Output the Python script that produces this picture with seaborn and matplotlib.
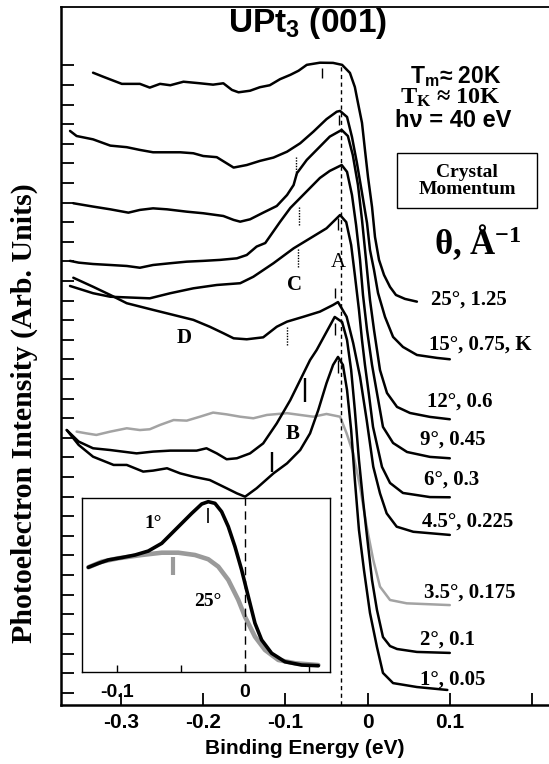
import matplotlib
matplotlib.use("Agg")
import matplotlib.pyplot as plt
import seaborn as sns
from matplotlib.patches import Rectangle

# --- ARPES spectra of UPt3 (001), binding energy (eV) vs intensity (arb. units, 1 tick = 1) ---
be_25 = [-0.334, -0.322, -0.309, -0.299, -0.277, -0.265, -0.2525, -0.240, -0.224, -0.204, -0.188, -0.1755,
         -0.165, -0.157, -0.143, -0.131, -0.119, -0.1065, -0.094, -0.084, -0.074, -0.058, -0.042, -0.031,
         -0.0215, -0.0155, -0.0117, -0.0068, -0.0032, 0.0005, 0.0054, 0.009, 0.0139, 0.020, 0.0273, 0.0345,
         0.0455, 0.060]
int_25 = [31.63, 31.43, 31.22, 31.06, 31.06, 30.87, 31.06, 30.99, 31.17, 31.09, 31.02, 31.09, 30.75, 30.63,
          30.71, 30.89, 30.99, 31.30, 31.52, 31.73, 32.03, 32.14, 32.13, 32.03, 31.62, 30.90, 30.09, 29.07,
          27.69, 26.31, 24.78, 23.25, 22.08, 21.31, 20.70, 20.29, 20.09, 19.95]

be_15 = [-0.362, -0.354, -0.334, -0.313, -0.293, -0.277, -0.261, -0.244, -0.228, -0.212, -0.200, -0.1835,
         -0.1715, -0.163, -0.147, -0.131, -0.1145, -0.098, -0.082, -0.066, -0.050, -0.0375, -0.0335, -0.025,
         -0.019, -0.013, -0.0068, -0.0007, 0.0029, 0.0078, 0.0127, 0.0212, 0.031, 0.043, 0.060, 0.0844, 0.100]
int_15 = [28.66, 28.40, 28.23, 27.91, 27.83, 27.69, 27.57, 27.57, 27.57, 27.52, 27.38, 27.32, 27.01, 26.79,
          26.92, 27.13, 27.30, 27.60, 28.03, 28.62, 29.26, 29.64, 29.68, 29.37, 28.35, 27.03, 25.50, 23.96,
          22.59, 21.57, 20.39, 19.17, 18.15, 17.64, 17.23, 17.08, 17.01]

be_12 = [-0.358, -0.334, -0.313, -0.291, -0.277, -0.261, -0.244, -0.220, -0.200, -0.1755, -0.163, -0.155,
         -0.143, -0.127, -0.1105, -0.098, -0.090, -0.086, -0.074, -0.058, -0.046, -0.0315, -0.024, -0.018,
         -0.0117, -0.0068, -0.0019, 0.0029, 0.0078, 0.0151, 0.0236, 0.0358, 0.0516, 0.0759, 0.100]
int_12 = [24.97, 24.80, 24.66, 24.49, 24.63, 24.71, 24.66, 24.54, 24.46, 24.32, 24.12, 24.03, 24.15, 24.49,
          24.83, 25.39, 25.90, 26.50, 27.18, 27.86, 28.37, 28.71, 28.40, 27.43, 25.90, 24.12, 22.08, 20.04,
          18.51, 16.46, 15.29, 14.58, 14.27, 14.07, 13.95]

be_9 = [-0.362, -0.3515, -0.334, -0.313, -0.293, -0.277, -0.261, -0.240, -0.220, -0.200, -0.1795, -0.159,
        -0.147, -0.135, -0.1245, -0.1065, -0.094, -0.082, -0.070, -0.058, -0.046, -0.0315, -0.025, -0.019,
        -0.014, -0.0092, -0.0056, -0.0007, 0.0054, 0.0114, 0.0187, 0.031, 0.048, 0.0759, 0.100]
int_9 = [22.03, 21.94, 21.87, 21.82, 21.77, 21.68, 21.82, 21.91, 21.99, 22.03, 22.08, 22.16, 22.33, 22.76,
         22.94, 24.02, 24.73, 25.24, 25.75, 26.26, 26.62, 26.92, 26.57, 25.39, 23.86, 22.08, 20.29, 18.51,
         16.72, 15.29, 13.56, 12.74, 12.28, 12.03, 11.96]

be_6 = [-0.362, -0.334, -0.313, -0.265, -0.240, -0.212, -0.1835, -0.155, -0.139, -0.1145, -0.090, -0.070,
        -0.050, -0.0335, -0.026, -0.020, -0.0155, -0.0105, -0.0068, -0.0032, 0.0017, 0.0066, 0.0175, 0.0273,
        0.043, 0.0759, 0.100]
int_6 = [20.75, 20.38, 20.20, 20.12, 20.38, 20.63, 20.80, 20.89, 21.22, 21.91, 22.67, 23.18, 23.69, 24.37,
         24.01, 22.84, 21.31, 19.53, 17.99, 16.72, 15.19, 13.56, 11.52, 10.70, 10.19, 9.98, 9.97]

be_45 = [-0.358, -0.334, -0.313, -0.293, -0.261, -0.236, -0.212, -0.192, -0.1755, -0.163, -0.147, -0.127,
         -0.1105, -0.098, -0.078, -0.058, -0.042, -0.036, -0.0255, -0.0175, -0.0092, -0.0011, 0.0069, 0.0151,
         0.0232, 0.0354, 0.0556, 0.100]
int_45 = [21.17, 20.71, 20.29, 19.87, 19.53, 19.27, 19.02, 18.67, 18.34, 18.08, 18.03, 18.13, 18.67, 18.93,
          19.18, 19.44, 19.78, 19.93, 19.18, 17.83, 16.12, 13.91, 11.53, 10.17, 9.15, 8.47, 8.21, 8.05]

be_35 = [-0.354, -0.342, -0.330, -0.313, -0.293, -0.277, -0.265, -0.2525, -0.236, -0.220, -0.204, -0.188,
         -0.1715, -0.155, -0.139, -0.1225, -0.098, -0.082, -0.066, -0.050, -0.0335, -0.0255, -0.0175, -0.0092,
         -0.0011, 0.0069, 0.0151, 0.0273, 0.0476, 0.100]
int_35 = [13.32, 13.23, 13.15, 13.32, 13.49, 13.40, 13.44, 13.66, 13.91, 13.88, 14.08, 14.29, 14.20, 14.08,
          14.00, 14.17, 14.26, 14.17, 14.08, 14.22, 14.08, 13.23, 12.21, 10.51, 8.47, 6.77, 5.41, 4.73, 4.56,
          4.47]

be_2 = [-0.366, -0.3515, -0.334, -0.313, -0.281, -0.261, -0.240, -0.208, -0.196, -0.1835, -0.1715, -0.159,
        -0.143, -0.127, -0.1105, -0.094, -0.082, -0.070, -0.062, -0.052, -0.040, -0.031, -0.025, -0.020,
        -0.0155, -0.0105, -0.0056, 0.0005, 0.0054, 0.0114, 0.0187, 0.0273, 0.0358, 0.060, 0.100]
int_2 = [13.40, 12.81, 12.47, 12.38, 12.21, 12.30, 12.35, 12.35, 12.47, 12.21, 11.91, 11.96, 12.21, 12.72,
         13.74, 14.93, 15.95, 16.97, 17.48, 18.25, 19.17, 18.91, 17.99, 16.46, 14.42, 11.87, 9.83, 7.54, 5.75,
         4.22, 2.84, 2.38, 2.23, 2.08, 2.03]

be_1 = [-0.366, -0.3515, -0.334, -0.309, -0.293, -0.273, -0.261, -0.244, -0.228, -0.212, -0.192, -0.1715,
        -0.159, -0.149, -0.135, -0.1145, -0.098, -0.082, -0.070, -0.060, -0.050, -0.042, -0.036, -0.030,
        -0.025, -0.020, -0.0155, -0.0105, -0.0044, 0.0029, 0.0114, 0.0187, 0.031, 0.060, 0.097]
int_1 = [13.40, 12.64, 12.04, 11.62, 11.62, 11.28, 11.33, 11.45, 11.19, 11.02, 10.85, 10.43, 10.17, 10.00,
         10.43, 11.19, 11.70, 12.38, 13.23, 14.42, 15.79, 16.72, 17.13, 16.72, 15.44, 13.40, 10.85, 8.30, 6.26,
         4.07, 2.33, 1.01, 0.49, 0.29, 0.14]

# curve labels: angle, crystal momentum
curve_labels = ["25°, 1.25", "15°, 0.75, K", "12°, 0.6", "9°, 0.45", "6°, 0.3",
                "4.5°, 0.225", "3.5°, 0.175", "2°, 0.1", "1°, 0.05"]
label_be = [0.0766, 0.0747, 0.0723, 0.0637, 0.0686, 0.0662, 0.0682, 0.0637, 0.0637]
label_int = [20.04, 17.74, 14.85, 12.89, 10.85, 8.72, 5.09, 2.69, 0.65]

# feature markers
peak_ref = -0.0327
mark_be = [-0.056, -0.0345, -0.036, -0.040, -0.040, -0.0355]
mark_lo = [31.35, 28.96, 23.60, 20.13, 18.25, 16.31]
mark_hi = [31.86, 29.47, 24.20, 20.64, 18.86, 16.97]
bmark_be = [-0.076, -0.1165]
bmark_lo = [14.83, 11.26]
bmark_hi = [16.05, 12.28]
dot_be = [-0.087, -0.083, -0.085, -0.098]
dot_lo = [26.41, 23.86, 21.72, 17.74]
dot_hi = [27.32, 24.78, 22.69, 18.66]
letters = ["A", "C", "D", "B"]
letter_be = [-0.036, -0.0895, -0.2234, -0.0908]
letter_int = [21.97, 20.80, 18.10, 13.20]

# inset: 1 deg vs 25 deg near E_F (normalised)
inset_be_1 = [-0.1221, -0.1143, -0.1065, -0.0961, -0.0857, -0.0754, -0.0649, -0.0571, -0.0493, -0.0415,
              -0.0337, -0.0286, -0.0234, -0.0182, -0.0130, -0.0078, -0.0026, 0.0026, 0.0078, 0.0130, 0.0208,
              0.0312, 0.0442, 0.0572]
inset_int_1 = [0.600, 0.624, 0.645, 0.659, 0.675, 0.699, 0.746, 0.807, 0.868, 0.929, 0.986, 1.000, 0.990,
               0.939, 0.848, 0.726, 0.584, 0.421, 0.259, 0.157, 0.076, 0.024, 0.004, 0.000]
inset_be_25 = [-0.1221, -0.1117, -0.0988, -0.0805, -0.0649, -0.0520, -0.0390, -0.0286, -0.0208, -0.0130,
               -0.0052, 0.0000, 0.0078, 0.0156, 0.0260, 0.0390, 0.0572]
inset_int_25 = [0.600, 0.634, 0.655, 0.675, 0.689, 0.689, 0.675, 0.649, 0.604, 0.523, 0.401, 0.299, 0.177,
                0.096, 0.035, 0.015, 0.004]

sns.set_style("ticks", {"axes.edgecolor": "black", "xtick.color": "black", "ytick.color": "black",
                        "xtick.direction": "in", "ytick.direction": "in", "text.color": "black",
                        "axes.labelcolor": "black"})
plt.rcParams["font.family"] = ["Liberation Sans", "DejaVu Sans"]
serif = ["Liberation Serif", "DejaVu Serif"]

fig = plt.figure(figsize=(5.49, 7.64), dpi=100)
ax = fig.add_axes([0.1117, 0.0772, 0.8883, 0.9136])

sns.lineplot(x=be_35, y=int_35, sort=False, estimator=None, color="#a3a3a3", lw=1.8, ax=ax)
black = [(be_25, int_25), (be_15, int_15), (be_12, int_12), (be_9, int_9), (be_6, int_6),
         (be_45, int_45), (be_2, int_2), (be_1, int_1)]
for be, it in black:
    sns.lineplot(x=be, y=it, sort=False, estimator=None, color="black", lw=1.8, ax=ax,
                 solid_joinstyle="round")

ax.axvline(peak_ref, ymin=0, ymax=0.917, color="black", lw=1, ls=(0, (3, 2.5)))
ax.vlines(mark_be, mark_lo, mark_hi, color="black", lw=1)
ax.vlines(bmark_be, bmark_lo, bmark_hi, color="black", lw=1.7)
ax.vlines(dot_be, dot_lo, dot_hi, color="black", lw=1, linestyles=(0, (1, 1)))

for s, x, y in zip(curve_labels, label_be, label_int):
    ax.text(x, y, s, family=serif, weight="bold", fontsize=15, ha="left", va="center")
for s, x, y in zip(letters, letter_be, letter_int):
    ax.text(x, y, s, family=serif, weight="normal" if s == "A" else "bold", fontsize=15,
            ha="center", va="center")

ax.text(-0.0725, 34.12, "UPt$\\mathdefault{_3}$ (001)", fontsize=24, weight="bold", ha="center", va="center")
ax.text(0.1075, 31.45, "T$\\mathdefault{_m}$≈ 20K", fontsize=16.5, weight="bold", ha="center", va="center")
ax.text(0.100, 30.36, "T$\\mathdefault{_K}$ ≈ 10K", family=serif, fontsize=17.5, weight="bold",
        ha="center", va="center")
ax.text(0.104, 29.20, "hν = 40 eV", fontsize=17, weight="bold", ha="center", va="center")
ax.add_patch(Rectangle((0.0358, 24.73), 0.1702, 2.81, fill=False, lw=1, ec="black"))
ax.text(0.121, 26.13, "Crystal\nMomentum", family=serif, fontsize=14, weight="bold",
        ha="center", va="center", linespacing=1.0)
ax.text(0.134, 22.99, "θ, Å$\\mathdefault{^{-1}}$", family=serif, fontsize=25, weight="bold",
        ha="center", va="center")

ax.set_xlim(-0.3726, 0.2207)
ax.set_ylim(-0.628, 34.98)
ax.set_xticks([-0.3, -0.2, -0.1, 0, 0.1, 0.2])
ax.set_xticklabels(["-0.3", "-0.2", "-0.1", "0", "0.1", ""], fontsize=15, weight="bold")
ax.set_yticks(range(33))
ax.set_yticklabels([])
ax.tick_params(axis="x", length=9, width=1.3, pad=6)
ax.tick_params(axis="y", length=9, width=1.3)
ax.spines["right"].set_visible(False)
for side in ["left", "bottom"]:
    ax.spines[side].set_linewidth(1.8)
ax.spines["top"].set_linewidth(1.3)

ax.set_xlabel("Binding Energy (eV)", fontsize=15, weight="bold", labelpad=5)
ax.set_ylabel("Photoelectron Intensity (Arb. Units)", family=serif, fontsize=21.5, weight="bold")
ax.yaxis.set_label_coords(-0.047, 0.418)

# inset
axi = fig.add_axes([0.1488, 0.1208, 0.4523, 0.2274])
sns.lineplot(x=inset_be_25, y=inset_int_25, sort=False, estimator=None, color="#9a9a9a", lw=3.3, ax=axi)
sns.lineplot(x=inset_be_1, y=inset_int_1, sort=False, estimator=None, color="black", lw=2.6, ax=axi)
axi.vlines([-0.0291], [0.870], [0.962], color="black", lw=1.2)
axi.vlines([-0.0559], [0.553], [0.665], color="#9a9a9a", lw=3)
axi.axvline(0, color="black", lw=1, ls=(0, (6, 4)))
axi.text(-0.0715, 0.868, "1°", family=serif, fontsize=14, weight="bold", ha="center", va="center")
axi.text(-0.0286, 0.390, "25°", family=serif, fontsize=14, weight="bold", ha="center", va="center")
axi.set_xlim(-0.1273, 0.0663)
axi.set_ylim(-0.0366, 1.0226)
axi.set_xticks([-0.1, -0.05, 0, 0.05])
axi.set_xticklabels(["-0.1", "", "0", ""], fontsize=14, weight="bold")
axi.set_yticks([])
axi.tick_params(axis="x", length=5, width=1, pad=9)
for sp in axi.spines.values():
    sp.set_linewidth(1)

fig.savefig("out.png", dpi=100)
